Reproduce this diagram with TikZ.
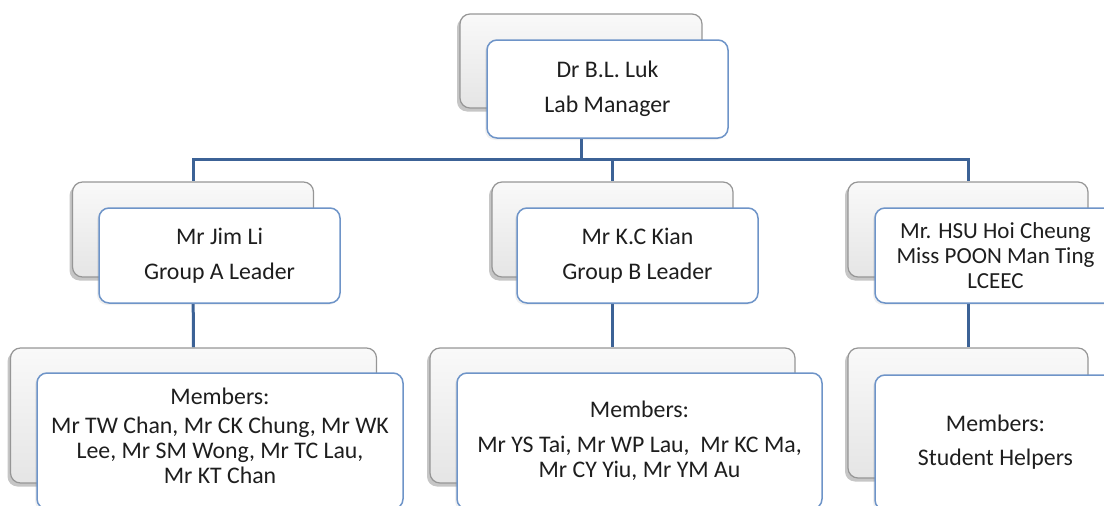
\documentclass[tikz,border=0pt]{standalone}
\usepackage{fontspec}
\setmainfont{Carlito}
\usetikzlibrary{shadows,backgrounds,calc}

\begin{document}
\begin{tikzpicture}[x=1pt,y=-1pt]
\definecolor{linkblue}{RGB}{60,98,150}
\definecolor{boxblue}{RGB}{110,148,200}
\definecolor{greyedge}{RGB}{150,150,150}
\definecolor{greytop}{RGB}{249,249,249}
\definecolor{greybot}{RGB}{229,229,229}
\definecolor{textgrey}{RGB}{30,30,30}
\tikzset{
  backbox/.style={draw=greyedge,line width=1.2pt,top color=greytop,bottom color=greybot,
    rounded corners=10pt,inner sep=0pt,
    drop shadow={shadow xshift=-3pt,shadow yshift=-3.5pt,opacity=0.45}},
  frontbox/.style={draw=boxblue,line width=1.5pt,fill=white,rounded corners=10pt,
    inner sep=0pt,align=center,text=textgrey,font=\fontsize{23.8}{25}\selectfont,
    drop shadow={shadow xshift=-2pt,shadow yshift=-2pt,opacity=0.12}},
  link/.style={draw=linkblue,line width=3pt}
}
\useasboundingbox (0,0) rectangle (1104,506);
% back boxes
\node[backbox,minimum width=242pt,minimum height=94pt] (mgrB) at (581,61) {};
\node[backbox,minimum width=241pt,minimum height=95pt] (grpAB) at (193,229.5) {};
\node[backbox,minimum width=241pt,minimum height=95pt] (grpBB) at (612.5,229.5) {};
\node[backbox,minimum width=240pt,minimum height=95pt] (grpCB) at (968,229.5) {};
\node[backbox,minimum width=366pt,minimum height=135pt] (memAB) at (193.5,415.5) {};
\node[backbox,minimum width=365pt,minimum height=135pt] (memBB) at (612.5,415.5) {};
\node[backbox,minimum width=240pt,minimum height=130pt] (memCB) at (968,413) {};
% front boxes
\node[frontbox,minimum width=241pt,minimum height=98pt] (mgr) at (607.5,89)
  {Dr B.L. Luk\\[10pt]Lab Manager};
\node[frontbox,minimum width=241pt,minimum height=95pt] (grpA) at (219.5,255.5)
  {Mr Jim Li\\[10pt]Group A Leader};
\node[frontbox,minimum width=241pt,minimum height=95pt] (grpB) at (637.5,255.5)
  {Mr K.C Kian\\[10pt]Group B Leader};
\node[frontbox,minimum width=241pt,minimum height=95pt,font=\fontsize{23}{25}\selectfont] (grpC) at (995.5,255.5)
  {Mr. HSU Hoi Cheung\\Miss POON Man Ting\\LCEEC};
\node[frontbox,minimum width=366pt,minimum height=136pt] (memA) at (220,441)
  {Members:\\[4pt]Mr TW Chan, Mr CK Chung, Mr WK\\Lee, Mr SM Wong, Mr TC Lau,\\Mr KT Chan\\[-15pt]};
\node[frontbox,minimum width=365pt,minimum height=136pt] (memB) at (639.5,441)
  {Members:\\[10pt]Mr YS Tai, Mr WP Lau,~ Mr KC Ma,\\Mr CY Yiu, Mr YM Au};
\node[frontbox,minimum width=241pt,minimum height=135pt] (memC) at (995.5,442.5)
  {Members:\\[9pt]Student Helpers};
% connectors
\coordinate (bar) at (0,159);
\begin{scope}[on background layer]
\draw[link] (mgrB.south) |- (grpAB.north |- bar) -- (grpAB.north);
\draw[link] (mgrB.south) |- (grpCB.north |- bar) -- (grpCB.north);
\draw[link] (mgrB.south) |- (grpBB.north |- bar) -- (grpBB.north);
\draw[link] (grpAB.south) -- (memAB.north);
\draw[link] (grpBB.south) -- (memBB.north);
\draw[link] (grpCB.south) -- (memCB.north);
\end{scope}
\end{tikzpicture}
\end{document}
